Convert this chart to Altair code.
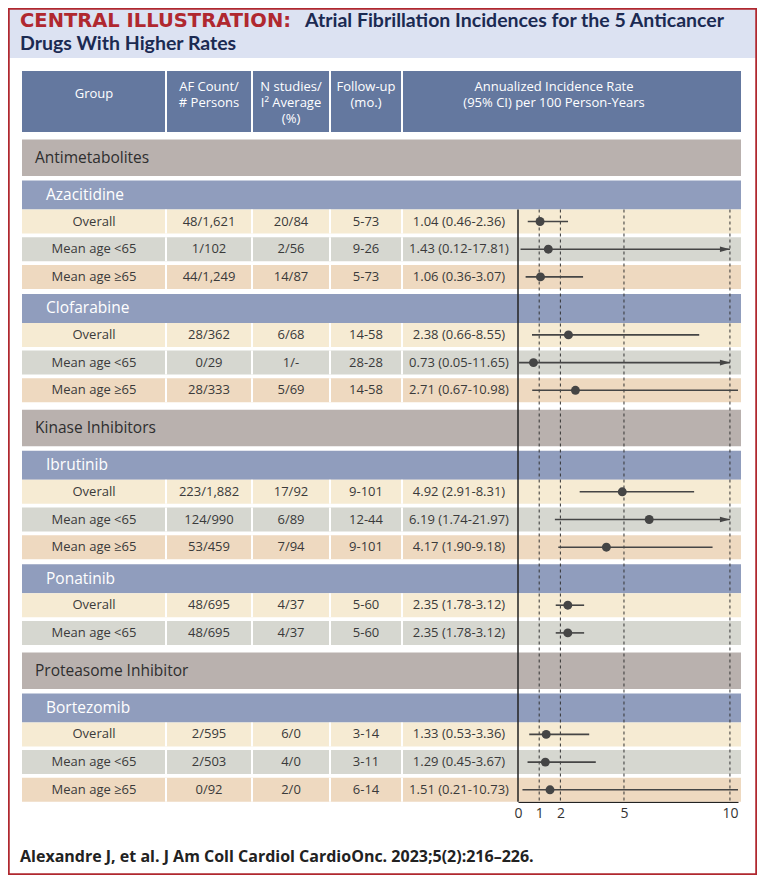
import altair as alt
import pandas as pd

# ---------------- data ----------------
categories = ["Antimetabolites", "Kinase Inhibitors", "Proteasome Inhibitor"]
drugs = ["Azacitidine", "Clofarabine", "Ibrutinib", "Ponatinib", "Bortezomib"]
drug_category = ["Antimetabolites", "Antimetabolites", "Kinase Inhibitors",
                 "Kinase Inhibitors", "Proteasome Inhibitor"]
row_drug = (["Azacitidine"] * 3 + ["Clofarabine"] * 3 + ["Ibrutinib"] * 3
            + ["Ponatinib"] * 2 + ["Bortezomib"] * 3)
row_group = ["Overall", "Mean age <65", "Mean age ≥65",
             "Overall", "Mean age <65", "Mean age ≥65",
             "Overall", "Mean age <65", "Mean age ≥65",
             "Overall", "Mean age <65",
             "Overall", "Mean age <65", "Mean age ≥65"]
af_count = ["48/1,621", "1/102", "44/1,249", "28/362", "0/29", "28/333",
            "223/1,882", "124/990", "53/459", "48/695", "48/695",
            "2/595", "2/503", "0/92"]
n_studies = ["20/84", "2/56", "14/87", "6/68", "1/-", "5/69", "17/92", "6/89",
             "7/94", "4/37", "4/37", "6/0", "4/0", "2/0"]
follow_up = ["5-73", "9-26", "5-73", "14-58", "28-28", "14-58", "9-101", "12-44",
             "9-101", "5-60", "5-60", "3-14", "3-11", "6-14"]
rate = [1.04, 1.43, 1.06, 2.38, 0.73, 2.71, 4.92, 6.19, 4.17, 2.35, 2.35, 1.33, 1.29, 1.51]
ci_low = [0.46, 0.12, 0.36, 0.66, 0.05, 0.67, 2.91, 1.74, 1.90, 1.78, 1.78, 0.53, 0.45, 0.21]
ci_high = [2.36, 17.81, 3.07, 8.55, 11.65, 10.98, 8.31, 21.97, 9.18, 3.12, 3.12, 3.36, 3.67, 10.73]
axis_ticks = [0, 1, 2, 5, 10]

header_labels = [["Group"], ["AF Count/", "# Persons"], ["N studies/", "I² Average", "(%)"],
                 ["Follow-up", "(mo.)"], ["Annualized Incidence Rate", "(95% CI) per 100 Person-Years"]]
title_red = "CENTRAL ILLUSTRATION:"
title_line1 = "Atrial Fibrillation Incidences for the 5 Anticancer"
title_line2 = "Drugs With Higher Rates"
citation = "Alexandre J, et al. J Am Coll Cardiol CardioOnc. 2023;5(2):216–226."

# ---------------- style / layout ----------------
W, H = 749, 867
FONT = "Open Sans"
RED = "#b0282f"
NAVY = "#1b2a52"
TXT = "#3a3a3a"
MARK = "#454545"
C_HEADER = "#64789f"
C_CAT = "#b9b1ae"
C_DRUG = "#909dbd"
C_BAND = "#dce2f2"
GROUP_COLORS = {"Overall": "#f6ebd3", "Mean age <65": "#d6d7d0", "Mean age ≥65": "#eed9c0"}

TABLE_L, TABLE_R = 22, 741
SEPS = [166, 252, 330, 402]
COL_CENTERS = [94, 209, 291, 366]
RATE_CENTER = 459
HEADER_TOP, HEADER_BOT = 71, 132
XMAX = 10.38
ARROW_AT = 11

LX = alt.Scale(domain=[8, 8 + W], range=[0, W], nice=False, zero=False)
LY = alt.Scale(domain=[8, 8 + H], range=[0, H], nice=False, zero=False)
FX = alt.Scale(domain=[0, XMAX], range=[510, 730], nice=False, zero=False)


def lx(f):
    return alt.X(f, type="quantitative", scale=LX, axis=None)


def ly(f):
    return alt.Y(f, type="quantitative", scale=LY, axis=None)


# row layout
bands, row_y = [], {}
y = HEADER_BOT
for cat in categories:
    y += 7.5
    bands.append(dict(x=TABLE_L, x2=TABLE_R, y=y, y2=y + 36.5, color=C_CAT, label=cat, kind="cat"))
    y += 36.5
    first = True
    for d, dc in zip(drugs, drug_category):
        if dc != cat:
            continue
        y += 4.5 if first else 5
        first = False
        bands.append(dict(x=TABLE_L, x2=TABLE_R, y=y, y2=y + 29, color=C_DRUG, label=d, kind="drug"))
        y += 29
        k = 0
        for i, rd in enumerate(row_drug):
            if rd != d:
                continue
            if k > 0:
                y += 3.7
            k += 1
            bands.append(dict(x=TABLE_L, x2=TABLE_R, y=y, y2=y + 24,
                              color=GROUP_COLORS[row_group[i]], label="", kind="data"))
            row_y[i] = (y, y + 24)
            y += 24

bands_df = pd.DataFrame(bands)
first_data_top = row_y[0][0]
axis_y = row_y[len(rate) - 1][1]

rows = pd.DataFrame({
    "group": row_group, "af": af_count, "n": n_studies, "fu": follow_up,
    "rate": rate, "lo": ci_low,
    "hi": [min(h, XMAX) for h in ci_high],
    "arrow": [h > ARROW_AT for h in ci_high],
    "y0": [row_y[i][0] for i in range(len(rate))],
    "y1": [row_y[i][1] for i in range(len(rate))],
})
rows["yc"] = (rows["y0"] + rows["y1"]) / 2
rows["hi_line"] = rows["hi"]
rows.loc[rows["arrow"], "hi_line"] = 10
rows["label"] = [f"{r:.2f} ({l:.2f}-{h:.2f})" for r, l, h in zip(rate, ci_low, ci_high)]

# ---------------- layers ----------------
frame = pd.DataFrame([dict(x=8, x2=8 + W, y=8, y2=8 + H)])
band_title = pd.DataFrame([dict(x=8, x2=8 + W, y=8, y2=58)])

title_bg = alt.Chart(band_title).mark_rect(color=C_BAND).encode(
    x=lx("x"), x2="x2", y=ly("y"), y2="y2")

t_red = alt.Chart(pd.DataFrame([dict(x=20, y=26.5, t=title_red)])).mark_text(
    align="left", baseline="alphabetic", font="DejaVu Sans", fontWeight="bold",
    fontSize=19.5, color=RED).encode(x=lx("x"), y=ly("y"), text="t:N")
t_nav = alt.Chart(pd.DataFrame([dict(x=305, y=26.5, t=title_line1),
                                dict(x=20, y=50, t=title_line2)])).mark_text(
    align="left", baseline="alphabetic", font="Lato", fontWeight="bold",
    fontSize=19.5, color=NAVY).encode(x=lx("x"), y=ly("y"), text="t:N")

header_bg = alt.Chart(pd.DataFrame([dict(x=TABLE_L, x2=TABLE_R, y=HEADER_TOP, y2=HEADER_BOT)])).mark_rect(
    color=C_HEADER).encode(x=lx("x"), x2="x2", y=ly("y"), y2="y2")
header_seps = alt.Chart(pd.DataFrame([dict(x=s, y=HEADER_TOP, y2=HEADER_BOT) for s in SEPS])).mark_rule(
    color="white", strokeWidth=2).encode(x=lx("x"), y=ly("y"), y2="y2")
hdr_rows = []
for cx, lines in zip(COL_CENTERS + [554], header_labels):
    y0 = 94 if len(lines) == 1 else 86.5
    for j, ln in enumerate(lines):
        hdr_rows.append(dict(x=cx, y=y0 + 16.2 * j, t=ln))
header_txt = alt.Chart(pd.DataFrame(hdr_rows)).mark_text(
    align="center", baseline="middle", font=FONT, fontSize=13, color="white").encode(
    x=lx("x"), y=ly("y"), text="t:N")

band_rects = alt.Chart(bands_df).mark_rect().encode(
    x=lx("x"), x2="x2", y=ly("y"), y2="y2", color=alt.Color("color:N", scale=None))

bands_df["yc"] = (bands_df["y"] + bands_df["y2"]) / 2
cat_txt = alt.Chart(bands_df[bands_df.kind == "cat"]).mark_text(
    align="left", baseline="middle", font=FONT, fontSize=15.5, color="#2e2e2e").encode(
    x=alt.value(35 - 8), y=ly("yc"), text="label:N")
drug_txt = alt.Chart(bands_df[bands_df.kind == "drug"]).mark_text(
    align="left", baseline="middle", font=FONT, fontSize=15.5, color="white").encode(
    x=alt.value(46 - 8), y=ly("yc"), text="label:N")

sep_rows = pd.DataFrame([dict(x=s, y=r0, y2=r1) for (r0, r1) in row_y.values() for s in SEPS])
data_seps = alt.Chart(sep_rows).mark_rule(color="white", strokeWidth=2).encode(
    x=lx("x"), y=ly("y"), y2="y2")


def col_text(field, cx):
    return alt.Chart(rows).mark_text(
        align="center", baseline="middle", font=FONT, fontSize=13, color=TXT).encode(
        x=alt.value(cx - 8), y=ly("yc"), text=f"{field}:N")


texts = [col_text("group", COL_CENTERS[0]), col_text("af", COL_CENTERS[1]),
         col_text("n", COL_CENTERS[2]), col_text("fu", COL_CENTERS[3]),
         col_text("label", RATE_CENTER)]

# forest
ref_df = pd.DataFrame(dict(v=[1, 2, 5, 10], y=first_data_top, y2=axis_y))
ref_lines = alt.Chart(ref_df).mark_rule(color="#333333", strokeWidth=1, strokeDash=[3, 3]).encode(
    x=alt.X("v:Q", scale=FX, axis=None), y=ly("y"), y2="y2")

zero_df = pd.DataFrame(dict(v=[0], y=[first_data_top], y2=[axis_y]))
zero_line = alt.Chart(zero_df).mark_rule(color="#222222", strokeWidth=1.5).encode(
    x=alt.X("v:Q", scale=FX,
            axis=alt.Axis(values=axis_ticks, offset=-(H - (axis_y - 8)), ticks=False, tickSize=0,
                          grid=False, title=None, domainColor="#222222", domainWidth=1.5,
                          labelFont=FONT, labelFontSize=14, labelColor="#333333",
                          labelPadding=5, labelFlush=False, format="d")),
    y=ly("y"), y2="y2")

ci = alt.Chart(rows).mark_rule(color=MARK, strokeWidth=1.6).encode(
    x=alt.X("lo:Q", scale=FX, axis=None), x2="hi_line:Q", y=ly("yc"))
pts = alt.Chart(rows).mark_point(filled=True, color=MARK, size=80, opacity=1).encode(
    x=alt.X("rate:Q", scale=FX, axis=None), y=ly("yc"))
arrows = alt.Chart(rows[rows.arrow]).mark_point(
    filled=True, color=MARK, opacity=1, size=4, shape="M-10,-2.8L0,0L-10,2.8Z").encode(
    x=alt.X("hi_line:Q", scale=FX, axis=None), y=ly("yc"))

cite = alt.Chart(pd.DataFrame([dict(x=20, y=857, t=citation)])).mark_text(
    align="left", baseline="middle", font=FONT, fontWeight="bold", fontSize=16,
    color="#222222").encode(x=lx("x"), y=ly("y"), text="t:N")

border = alt.Chart(frame).mark_rect(fill=None, stroke=RED, strokeWidth=3.5).encode(
    x=lx("x"), x2="x2", y=ly("y"), y2="y2")

chart = alt.layer(
    title_bg, t_red, t_nav, header_bg, header_seps, header_txt,
    band_rects, cat_txt, drug_txt, data_seps, *texts,
    ref_lines, zero_line, ci, arrows, pts, cite, border
).resolve_scale(x="independent").properties(
    width=W, height=H,
    autosize=alt.AutoSizeParams(type="none"),
    padding=0,
).configure_view(stroke=None).configure(background="white")

chart.save("out.html", embed_options={"renderer": "svg", "actions": False})
